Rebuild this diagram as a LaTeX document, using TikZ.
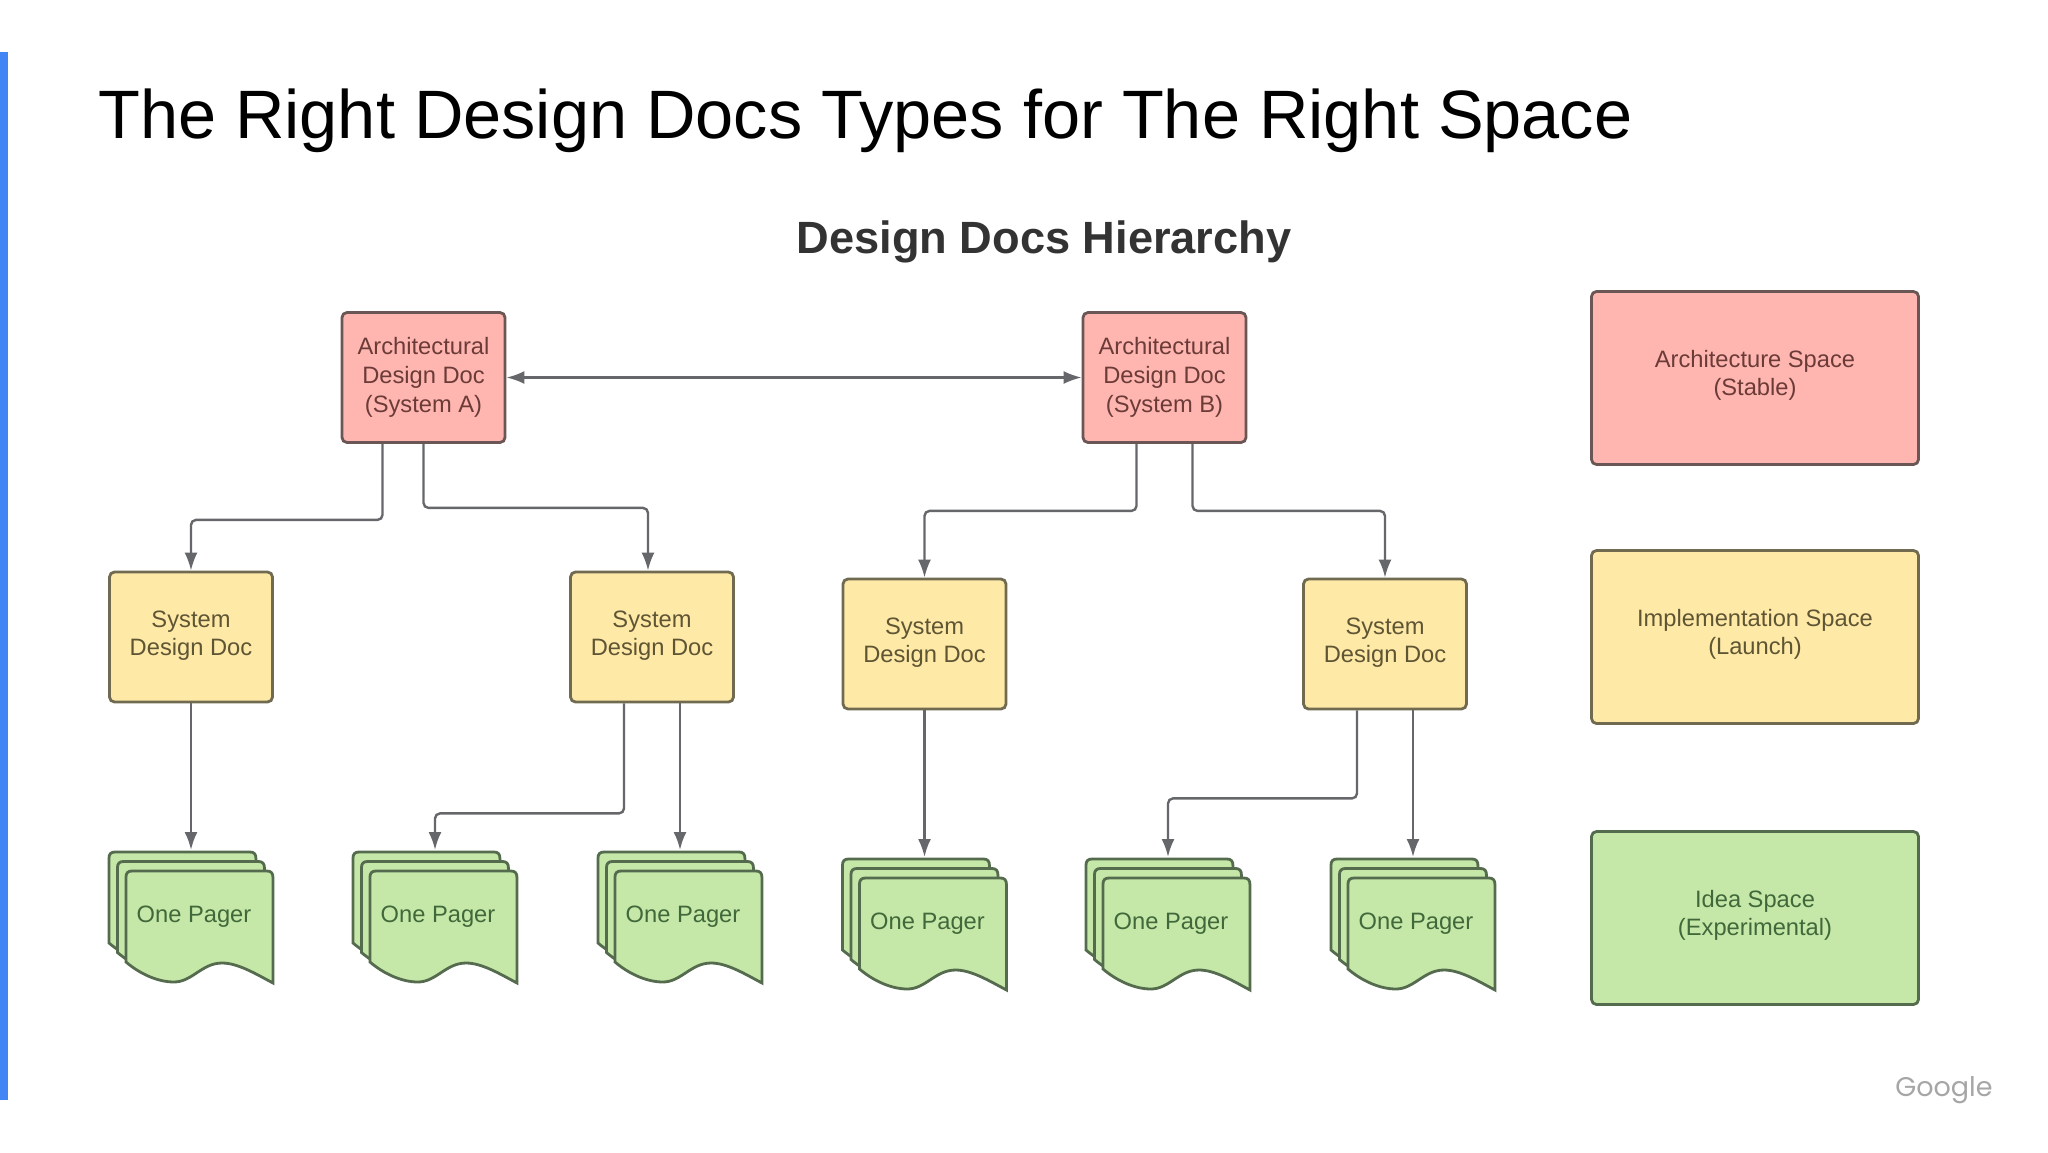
\documentclass[tikz,border=0pt]{standalone}
\usepackage{fontspec}
\setmainfont{Liberation Sans}
\newfontfamily\logofont{Poppins}
\usetikzlibrary{positioning,arrows.meta}
\definecolor{barblue}{HTML}{4285F4}
\definecolor{redfill}{HTML}{FFB6B0}
\definecolor{redline}{HTML}{6A5654}
\definecolor{redtext}{HTML}{6B3B38}
\definecolor{yellowfill}{HTML}{FFE9A6}
\definecolor{yellowline}{HTML}{6F6A50}
\definecolor{yellowtext}{HTML}{5E5534}
\definecolor{greenfill}{HTML}{C5E8A8}
\definecolor{greenline}{HTML}{556B4E}
\definecolor{greentext}{HTML}{41683A}
\definecolor{linkgray}{HTML}{66676B}
\tikzset{
    box/.style={draw,line width=2.8pt,rounded corners=5pt,inner sep=0pt,align=center,
        font=\fontsize{23.7}{28.7}\selectfont},
    doc/.style={box,minimum width=163pt,minimum height=130pt},
    sysdoc/.style={doc,yellowbox,execute at end node={\rule[-7.6pt]{0pt}{0pt}}},
    legend/.style={box,minimum width=327pt,minimum height=173pt,
        execute at end node={\rule[-10.2pt]{0pt}{0pt}}},
    redbox/.style={fill=redfill,draw=redline,text=redtext},
    yellowbox/.style={fill=yellowfill,draw=yellowline,text=yellowtext},
    greenbox/.style={fill=greenfill,draw=greenline,text=greentext},
    link/.style={draw=linkgray,line width=2.4pt,rounded corners=5pt,
        -{Latex[length=18pt,width=13pt,fill=linkgray]}},
    pics/onepager/.style={code={
        \foreach \d in {0,1,2}
            \draw[fill=greenfill,draw=greenline,line width=2.8pt,shift={(8.5*\d,9.5*\d)}]
                (0,91) .. controls (14,103) and (32,111) .. (48,111)
                .. controls (66,111) and (76,92) .. (96,92)
                .. controls (112,92) and (130,103) .. (147,112)
                -- (147,7) .. controls (147,2) and (145,0) .. (141,0)
                -- (6,0) .. controls (2,0) and (0,2) .. (0,6) -- cycle;
        \coordinate (-top) at (82,-2);
        \node[text=greentext,font=\fontsize{23.7}{28.7}\selectfont] (-label) at (85,64.6) {One Pager};
    }}
}
\begin{document}
\begin{tikzpicture}[x=1pt,y=-1pt]
    \path[use as bounding box,fill=white] (0,0) rectangle (2048,1152);
    \fill[barblue] (0,52) rectangle (8,1100);
    \node[anchor=base west,inner sep=0pt,font=\fontsize{68.5}{80}\selectfont] (title) at (98,138)
        {The Right Design Docs Types for The Right Space};
    \node[text=black!80,font=\fontsize{45.2}{52}\selectfont\bfseries] (heading) at (1044,242)
        {Design Docs Hierarchy};
    \node[doc,redbox] (archA) at (423.5,377.5) {Architectural\\Design Doc\\(System A)};
    \node[doc,redbox] (archB) at (1164.5,377.5) {Architectural\\Design Doc\\(System B)};
    \node[sysdoc] (sysA) at (191,637) {System\\Design Doc};
    \node[sysdoc] (sysB) at (652,637) {System\\Design Doc};
    \node[sysdoc] (sysC) at (924.5,644) {System\\Design Doc};
    \node[sysdoc] (sysD) at (1385,644) {System\\Design Doc};
    \pic (pageA) at (109,852) {onepager};
    \pic (pageB) at (353,852) {onepager};
    \pic (pageC) at (598,852) {onepager};
    \pic (pageD) at (842.5,859) {onepager};
    \pic (pageE) at (1086,859) {onepager};
    \pic (pageF) at (1331,859) {onepager};
    \node[legend,redbox] (legendA) at (1755,378) {Architecture Space\\(Stable)};
    \node[legend,yellowbox] (legendB) at (1755,637) {Implementation Space\\(Launch)};
    \node[legend,greenbox] (legendC) at (1755,918) {Idea Space\\(Experimental)};
    \node[text=black!35,font=\logofont\fontsize{27}{32}\selectfont] (logo) at (1944,1090) {Google};
    \draw[link,{Latex[length=18pt,width=13pt,fill=linkgray]}-{Latex[length=18pt,width=13pt,fill=linkgray]}] (archA) -- (archB);
    \draw[link] ([xshift=-41pt]archA.south) -- ++(0,76) -| (sysA.north);
    \draw[link] (archA.south) -- ++(0,64) -| ([xshift=-4pt]sysB.north);
    \draw[link] ([xshift=-28pt]archB.south) -- ++(0,67) -| (sysC.north);
    \draw[link] ([xshift=28pt]archB.south) -- ++(0,67) -| (sysD.north);
    \draw[link] (sysA.south) -- (pageA-top);
    \draw[link] ([xshift=-28pt]sysB.south) -- ++(0,110) -| (pageB-top);
    \draw[link] ([xshift=28pt]sysB.south) -- (pageC-top);
    \draw[link] (sysC.south) -- (pageD-top);
    \draw[link] ([xshift=-28pt]sysD.south) -- ++(0,88) -| (pageE-top);
    \draw[link] ([xshift=28pt]sysD.south) -- (pageF-top);
\end{tikzpicture}
\end{document}
